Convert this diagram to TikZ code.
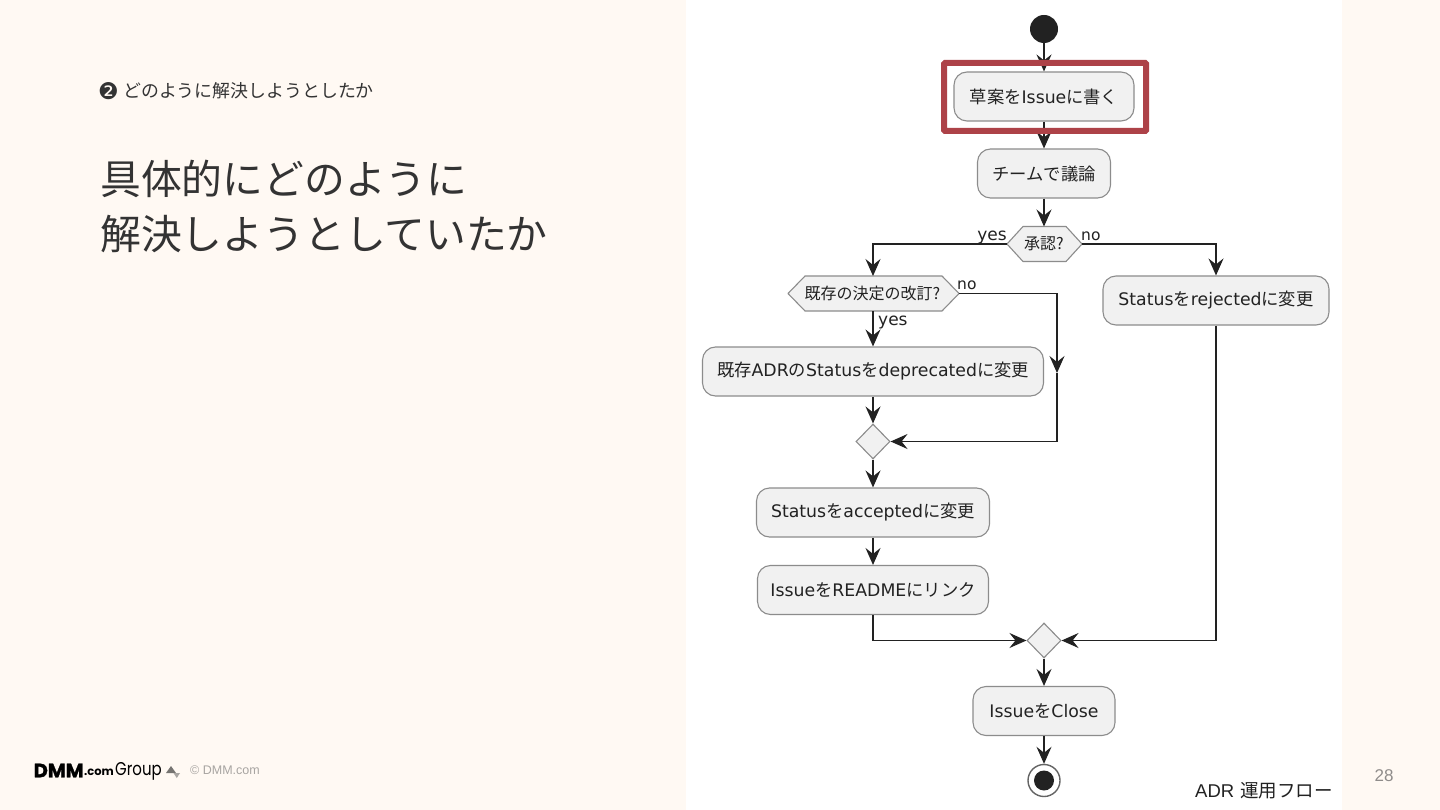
\documentclass[tikz,border=0pt]{standalone}
\usepackage{fontspec}
\setmainfont{Noto Sans CJK JP}
\newfontfamily\dvfont{DejaVu Sans}
\newfontfamily\arfont{Liberation Sans}
\newfontfamily\popfont{Poppins}
\usetikzlibrary{arrows.meta,shapes.geometric,positioning,calc}
\definecolor{pagebg}{HTML}{FFF9F3}
\definecolor{ink}{HTML}{222222}
\definecolor{boxfill}{HTML}{F1F1F1}
\definecolor{boxline}{HTML}{8C8C8C}
\definecolor{redframe}{HTML}{AD4248}
\definecolor{titleink}{HTML}{333333}
\definecolor{softgray}{HTML}{A8A5A2}
\newcommand\lat[1]{{\dvfont #1}}
\newcommand\fs[1]{\fontsize{#1}{#1}\selectfont}
\tikzset{
  act/.style={draw=boxline,fill=boxfill,line width=1.1pt,rounded corners=13pt,minimum height=49pt,inner sep=0pt,text=ink,font=\fs{17.3}},
  hexshape/.style={draw=boxline,fill=boxfill,line width=1.1pt,line join=round},
  hextext/.style={minimum height=35pt,inner sep=0pt,text=ink,font=\fs{16}},
  merge/.style={diamond,aspect=1,draw=boxline,fill=boxfill,line width=1.1pt,minimum width=34pt,minimum height=35pt,inner sep=0pt},
  flow/.style={draw=ink,line width=1.5pt,-{Stealth[length=17pt,width=15pt,inset=6pt]}},
  guard/.style={text=ink,font=\dvfont\fs{15.5},inner sep=0pt},
  guardyes/.style={text=ink,font=\dvfont\fs{17},inner sep=0pt},
}
\begin{document}
\begin{tikzpicture}[x=1pt,y=-1pt]
\useasboundingbox (0,0) rectangle (1440,810);
\fill[pagebg] (0,0) rectangle (1440,810);
\fill[white] (686,0) rectangle (1342,810);

% left texts
\node[anchor=west,inner sep=0pt,text=titleink,font=\dvfont\fs{23}] (bul) at (98,91) {❷};
\node[anchor=west,inner sep=0pt,text=titleink,font=\fs{17.9}] (sub) at (123,91) {どのように解決しようとしたか};
\node[anchor=west,inner sep=0pt,text=titleink,font=\fs{40.8}] (t1) at (100,178.5) {具体的にどのように};
\node[anchor=west,inner sep=0pt,text=titleink,font=\fs{40.8}] (t2) at (100,234.5) {解決しようとしていたか};

% footer
\node[anchor=west,inner sep=0pt,text=black,font=\popfont\bfseries\addfontfeatures{FakeBold=1.5}\fs{19.5}] (dmm) at (33.5,770.5) {DMM};
\node[anchor=west,inner sep=0pt,text=black,font=\popfont\bfseries\fs{11.5}] (com) at (84,772.5) {.com};
\node[anchor=west,inner sep=0pt,text=black,font=\popfont\fs{18.5},xscale=0.81] (grp) at (115,771) {Group};
\fill[softgray!70!black] (171,766) -- (176,773) -- (166,773) -- cycle;
\fill[softgray] (173.5,773) -- (180,773) -- (176.8,778) -- cycle;
\node[anchor=west,inner sep=0pt,text=softgray,font=\arfont\fs{12.5}] (copy) at (190,770.5) {© DMM.com};
\node[anchor=center,inner sep=0pt,text=softgray!85!black,font=\arfont\fs{17}] (pg) at (1384,775.5) {28};
\node[anchor=west,inner sep=0pt,text=ink,font=\fs{18.5}] (cap) at (1195,790.5) {{\arfont ADR}\hspace{6pt}運用フロー};

% nodes
\node[circle,fill=ink,inner sep=0pt,minimum size=28pt] (start) at (1044,29) {};
\node[act,minimum width=180pt] (b1) at (1044,96.5) {草案を\lat{Issue}に書く};
\node[act,minimum width=133pt] (b2) at (1044,173.5) {チームで議論};
\path[hexshape] (1007,244) -- (1023,226.5) -- (1066,226.5) -- (1082,244) -- (1066,261.5) -- (1023,261.5) -- cycle;
\node[hextext,minimum width=75pt] (h1) at (1044.5,244) {\hspace{-1pt}承認?};
\path[hexshape] (788,293.5) -- (805,276) -- (942,276) -- (959,293.5) -- (942,311) -- (805,311) -- cycle;
\node[hextext,minimum width=171pt] (h2) at (873.5,293.5) {\hspace{-2pt}既存の決定の改訂?};
\coordinate (h1top) at (1044,226.5);
\coordinate (h2top) at (873,276);
\coordinate (h2bot) at (873,311);
\node[act,minimum width=226pt] (rej) at (1216,300.5) {\lat{Status}を\lat{rejected}に変更};
\node[act,minimum width=341pt] (adr) at (873,371.5) {既存\lat{ADR}の\lat{Status}を\lat{deprecated}に変更};
\node[merge] (d1) at (873,441.5) {};
\node[act,minimum width=233pt] (acc) at (873,512.5) {\lat{Status}を\lat{accepted}に変更};
\node[act,minimum width=231pt] (lnk) at (873,590) {\lat{Issue}を\lat{README}にリンク};
\node[merge] (d2) at (1044,640.5) {};
\node[act,minimum width=142pt] (cls) at (1044,711) {\lat{Issue}を\lat{Close}};
\node[circle,draw=ink!70,fill=white,line width=1.4pt,inner sep=0pt,minimum size=32pt] (stop) at (1044,780.5) {};
\node[circle,fill=ink,inner sep=0pt,minimum size=20pt] (stopdot) at (1044,780.5) {};

% free corner of the "no" branch
\coordinate (mid) at (1057,373);

% connectors
\draw[flow] (start) -- (b1.north);
\draw[flow] (b1.south) -- (b2.north);
\draw[flow] (b2.south) -- (h1top);
\draw[flow] (h1.west) -| (h2top);
\draw[flow] (h1.east) -| (rej.north);
\draw[flow] (h2bot) -- (adr.north);
\draw[flow] (h2.east) -| (mid);
\draw[flow] (mid) |- (d1.east);
\draw[flow] (adr.south) -- (d1.north);
\draw[flow] (d1.south) -- (acc.north);
\draw[flow] (acc.south) -- (lnk.north);
\draw[flow] (lnk.south) |- (d2.west);
\draw[flow] (rej.south) |- (d2.east);
\draw[flow] (d2.south) -- (cls.north);
\draw[flow] (cls.south) -- (stop.north);

% guards
\node[guardyes,anchor=east] (g1) at (1007,237.5) {yes};
\node[guard,anchor=west] (g2) at (1081,236.5) {no};
\node[guard,anchor=west] (g3) at (957,285.5) {no};
\node[guardyes,anchor=west] (g4) at (878,323) {yes};

% highlight
\draw[redframe,line width=6pt,rounded corners=1pt] (944,63) rectangle (1146,131);
\end{tikzpicture}
\end{document}
